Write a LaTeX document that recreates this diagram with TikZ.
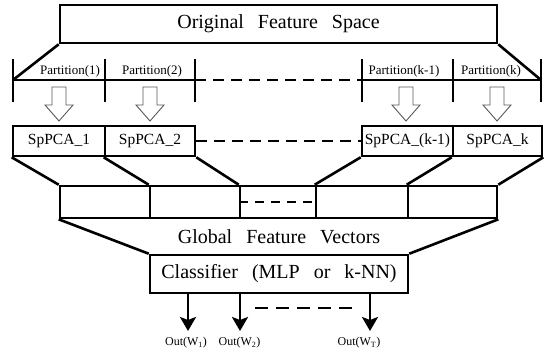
\documentclass[tikz,border=0pt]{standalone}
\usepackage{fontspec}
\setmainfont{Liberation Serif}
\usetikzlibrary{arrows.meta}
\begin{document}
\begin{tikzpicture}[x=1pt,y=-1pt,
  thk/.style={line width=2.6pt},
  box/.style={draw, line width=2.6pt, inner sep=0pt, anchor=center},
  dsh/.style={line width=2.6pt, dash pattern=on 11pt off 7pt},
  hollow/.style={draw=black!65, line width=0.9pt, fill=white},
  outarr/.style={line width=2.6pt, -{Stealth[length=14pt,width=16pt,inset=3pt]}},
  big/.style={font=\fontsize{20}{24}\selectfont},
  part/.style={font=\fontsize{13}{15}\selectfont, inner sep=0pt},
  sp/.style={font=\fontsize{15.5}{18}\selectfont},
  outl/.style={font=\fontsize{12}{14}\selectfont, inner sep=0pt}]
\useasboundingbox (0,0) rectangle (545,354);

% top box
\node[box, big, minimum width=437pt, minimum height=38pt] (orig) at (278.5,24) {Original\hspace{14pt}Feature\hspace{14pt}Space};

% partition line
\coordinate (p0) at (13,80);
\coordinate (p1) at (105,80);
\coordinate (p2) at (195,80);
\coordinate (p3) at (362,80);
\coordinate (p4) at (453,80);
\coordinate (p5) at (541,80);
\draw[thk] (orig.south west) -- (p0);
\draw[thk] (orig.south east) -- (p5);
\draw[thk] (p0) -- (p2);
\draw[dsh] (p2) -- (p3);
\draw[thk] (p3) -- (p5);
\foreach \p in {p0,p1,p2,p3,p4,p5}
  \draw[thk] ([yshift=21pt]\p) -- ([yshift=-22pt]\p);

\node[part] (l1) at (70,71) {Partition(1)};
\node[part] (l2) at (152,71) {Partition(2)};
\node[part] (l3) at (404,71) {Partition(k-1)};
\node[part] (l4) at (491,71) {Partition(k)};

% hollow arrows
\foreach \x in {59,150,406,497}
  \draw[hollow] (\x-7,87) -- (\x+7,87) -- (\x+7,105) -- (\x+14,105) -- (\x,121) -- (\x-14,105) -- (\x-7,105) -- cycle;

% SpPCA boxes
\node[box, sp, minimum width=92pt, minimum height=30pt] (s1) at (59,141) {SpPCA\_1};
\node[box, sp, minimum width=90pt, minimum height=30pt] (s2) at (150,141) {SpPCA\_2};
\node[box, sp, minimum width=91pt, minimum height=30pt] (s3) at (407.5,141) {SpPCA\_(k-1)};
\node[box, sp, minimum width=89pt, minimum height=30pt] (s4) at (497.5,141) {SpPCA\_k};
\draw[dsh] (s2.east) -- (s3.west);

% vector boxes
\node[box, minimum width=90pt, minimum height=32pt] (v1) at (105,202) {};
\node[box, minimum width=90pt, minimum height=32pt] (v2) at (195,202) {};
\node[box, minimum width=76pt, minimum height=32pt] (v3) at (278,202) {};
\node[box, minimum width=92pt, minimum height=32pt] (v4) at (362,202) {};
\node[box, minimum width=89pt, minimum height=32pt] (v5) at (452.5,202) {};
\draw[thk, dash pattern=on 9pt off 7pt] (v3.west) -- (v3.east);

\draw[thk] (s1.south west) -- (v1.north west);
\draw[thk] (s2.south west) -- (v2.north west);
\draw[thk] (s2.south east) -- (v3.north west);
\draw[thk] (s3.south west) -- (v4.north west);
\draw[thk] (s4.south west) -- (v5.north west);
\draw[thk] (s4.south east) -- (v5.north east);

% global feature vectors
\node[big] (gfv) at (279,237) {Global\hspace{14pt}Feature\hspace{14pt}Vectors};

% classifier
\node[box, big, minimum width=258pt, minimum height=38pt] (cls) at (279,274) {Classifier\hspace{14pt}(MLP\hspace{14pt}or\hspace{14pt}k-NN)};
\draw[thk] (v1.south west) -- (cls.north west);
\draw[thk] (v5.south east) -- (cls.north east);

% outputs
\coordinate (o1) at (188,331);
\coordinate (o2) at (240,331);
\coordinate (o3) at (370,331);
\draw[outarr] (cls.south -| o1) -- (o1);
\draw[outarr] (cls.south -| o2) -- (o2);
\draw[outarr] (cls.south -| o3) -- (o3);
\coordinate (d1) at (255,308);
\coordinate (d2) at (352,308);
\draw[thk, dash pattern=on 13pt off 8pt] (d1) -- (d2);

\node[outl] (t1) at (186,343) {Out(W\textsubscript{1})};
\node[outl] (t2) at (239.5,343) {Out(W\textsubscript{2})};
\node[outl] (t3) at (359,343) {Out(W\textsubscript{T})};
\end{tikzpicture}
\end{document}
